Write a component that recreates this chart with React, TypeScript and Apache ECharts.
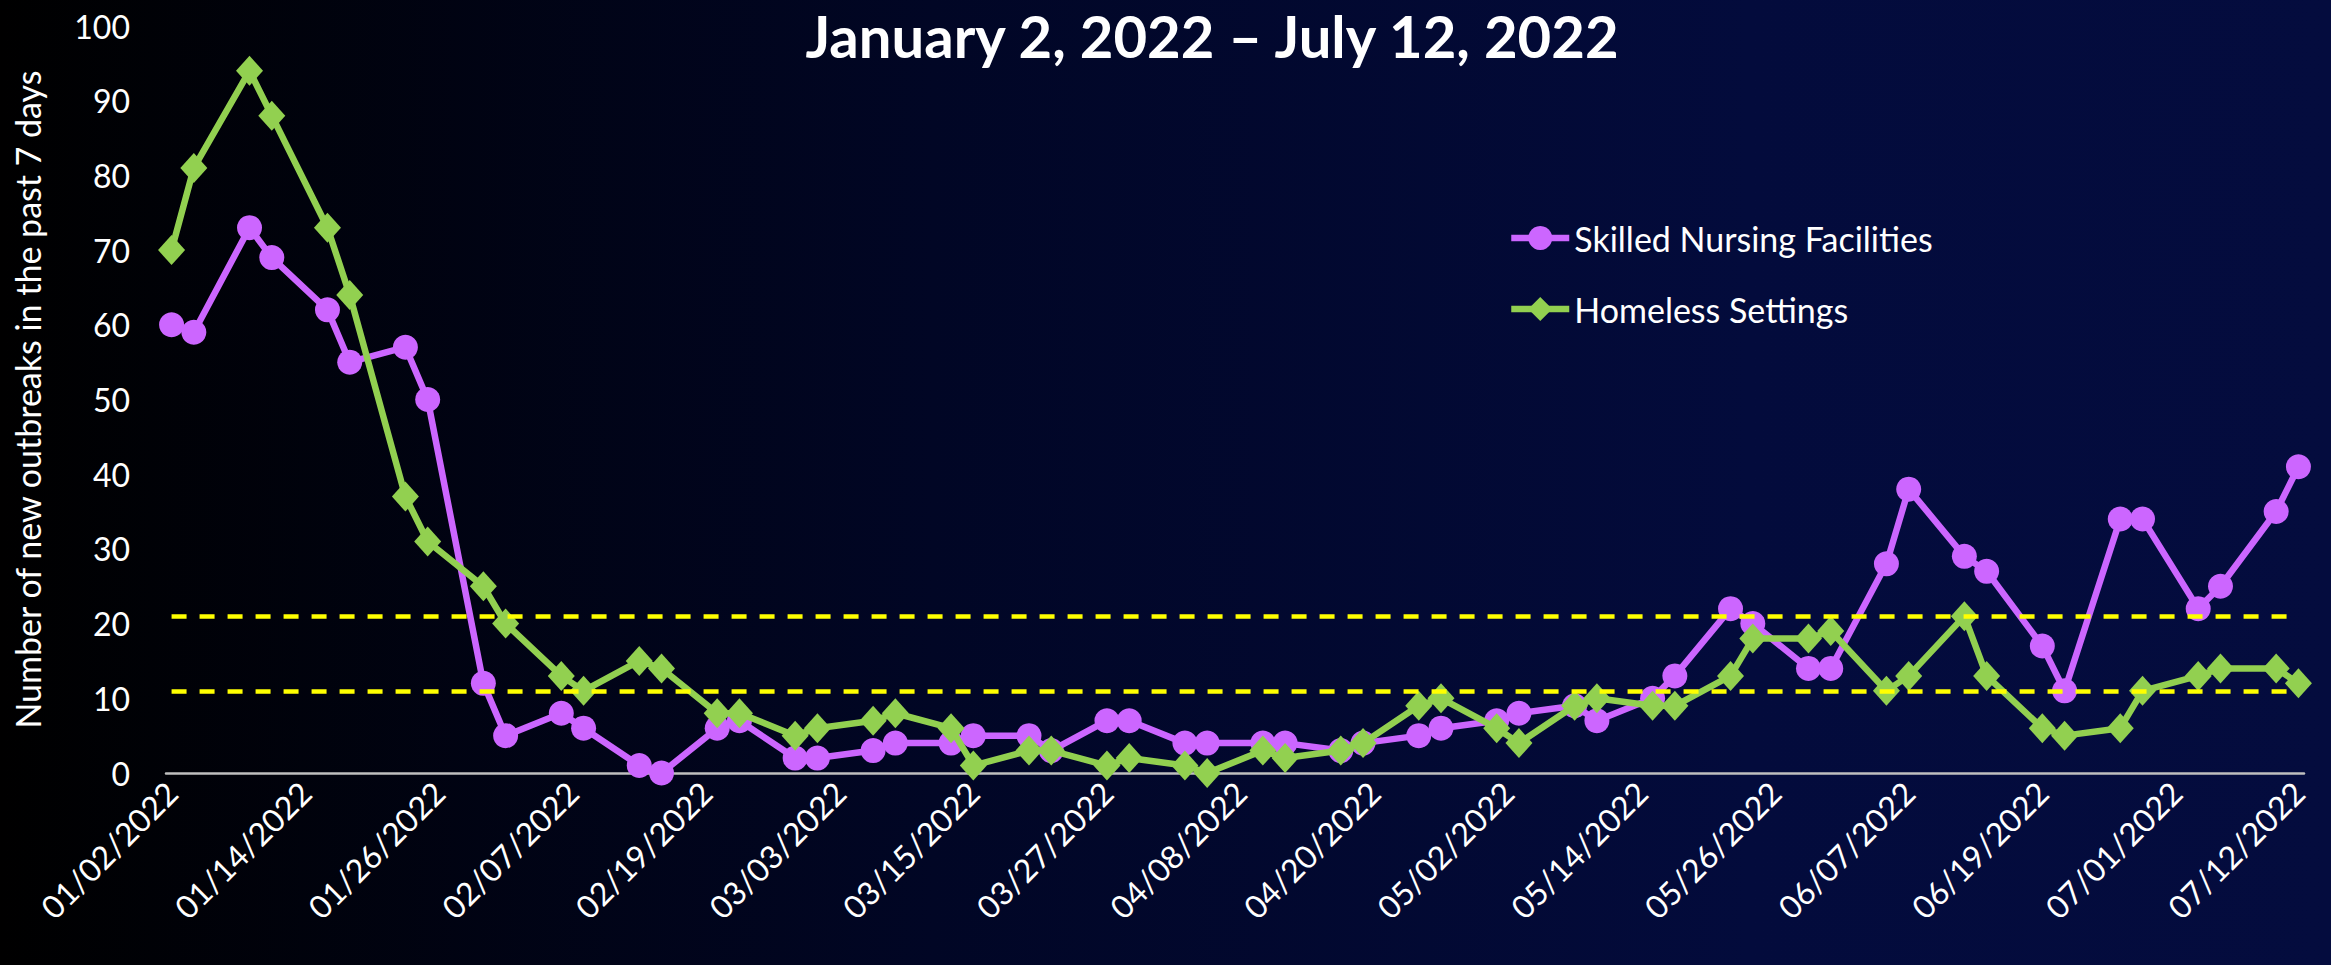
import React, { useEffect, useRef } from 'react';
import * as echarts from 'echarts';

// Report dates (Sundays and Tuesdays)
const dates = [
  '2022-01-02', '2022-01-04', '2022-01-09', '2022-01-11', '2022-01-16', '2022-01-18', '2022-01-23', '2022-01-25',
  '2022-01-30', '2022-02-01', '2022-02-06', '2022-02-08', '2022-02-13', '2022-02-15', '2022-02-20', '2022-02-22',
  '2022-02-27', '2022-03-01', '2022-03-06', '2022-03-08', '2022-03-13', '2022-03-15', '2022-03-20', '2022-03-22',
  '2022-03-27', '2022-03-29', '2022-04-03', '2022-04-05', '2022-04-10', '2022-04-12', '2022-04-17', '2022-04-19',
  '2022-04-24', '2022-04-26', '2022-05-01', '2022-05-03', '2022-05-08', '2022-05-10', '2022-05-15', '2022-05-17',
  '2022-05-22', '2022-05-24', '2022-05-29', '2022-05-31', '2022-06-05', '2022-06-07', '2022-06-12', '2022-06-14',
  '2022-06-19', '2022-06-21', '2022-06-26', '2022-06-28', '2022-07-03', '2022-07-05', '2022-07-10', '2022-07-12',
];

const skilledNursing = [
  60, 59, 73, 69, 62, 55, 57, 50,
  12, 5, 8, 6, 1, 0, 6, 7,
  2, 2, 3, 4, 4, 5, 5, 3,
  7, 7, 4, 4, 4, 4, 3, 4,
  5, 6, 7, 8, 9, 7, 10, 13,
  22, 20, 14, 14, 28, 38, 29, 27,
  17, 11, 34, 34, 22, 25, 35, 41,
];

const homeless = [
  70, 81, 94, 88, 73, 64, 37, 31,
  25, 20, 13, 11, 15, 14, 8, 8,
  5, 6, 7, 8, 6, 1, 3, 3,
  1, 2, 1, 0, 3, 2, 3, 4,
  9, 10, 6, 4, 9, 10, 9, 9,
  13, 18, 18, 19, 11, 13, 21, 13,
  6, 5, 6, 11, 13, 14, 14, 12,
];

const tickLabelDates = [
  '2022-01-02', '2022-01-14', '2022-01-26', '2022-02-07', '2022-02-19', '2022-03-03', '2022-03-15',
  '2022-03-27', '2022-04-08', '2022-04-20', '2022-05-02', '2022-05-14', '2022-05-26', '2022-06-07',
  '2022-06-19', '2022-07-01', '2022-07-12',
];

const thresholdLines = [21, 11];
const seriesNames = ['Skilled Nursing Facilities', 'Homeless Settings'];
const titleText = 'January 2, 2022 \u2013 July 12, 2022';
const yAxisTitle = 'Number of new outbreaks in the past 7 days';

const FONT = 'Lato, "Open Sans", sans-serif';
const HALF_DAY = 12 * 3600 * 1000;

function toTime(s: string): number {
  const [y, m, d] = s.split('-').map(Number);
  return new Date(y, m - 1, d).getTime();
}
function pad(n: number): string {
  return n < 10 ? '0' + n : '' + n;
}
function fmtDate(v: number): string {
  const d = new Date(v);
  return pad(d.getMonth() + 1) + '/' + pad(d.getDate()) + '/' + d.getFullYear();
}

export default function App() {
  const ref = useRef<HTMLDivElement>(null);

  useEffect(() => {
    document.body.style.margin = '0';
    document.body.style.background = '#000';
    if (!ref.current) return;
    const chart = echarts.init(ref.current, null, { renderer: 'svg' });

    const times = dates.map(toTime);
    const first = times[0];
    const last = times[times.length - 1];
    const tickValues = tickLabelDates.map(toTime);

    const mark = {
      silent: true,
      symbol: ['none', 'none'],
      label: { show: false },
      lineStyle: { color: '#FFFF00', width: 4.5, type: [15, 13] as any },
      data: thresholdLines.map((v) => [
        { coord: [first, v] },
        { coord: [last, v] },
      ]),
    };

    chart.setOption({
      animation: false,
      backgroundColor: 'transparent',
      textStyle: { fontFamily: FONT },
      graphic: [
        {
          type: 'text',
          x: 1212,
          y: 6,
          style: {
            text: titleText,
            fill: '#ffffff',
            font: `bold 58px ${FONT}`,
            align: 'center',
            verticalAlign: 'top',
          },
        },
      ],
      legend: {
        orient: 'vertical',
        left: 1503,
        top: 216,
        itemGap: 37,
        itemWidth: 58,
        itemHeight: 30,
        lineStyle: { width: 6.5 },
        textStyle: { color: '#ffffff', fontSize: 34, fontFamily: FONT },
        data: seriesNames,
      },
      grid: { left: 166, right: 27, top: 26, bottom: 192, containLabel: false },
      xAxis: {
        type: 'value',
        min: first - HALF_DAY,
        max: last + HALF_DAY,
        axisLine: { show: true, onZero: false, lineStyle: { color: '#BFBFBF', width: 2.5 } },
        axisTick: { show: false },
        splitLine: { show: false },
        axisLabel: {
          customValues: tickValues,
          rotate: 45,
          margin: 14,
          color: '#ffffff',
          fontSize: 32,
          fontFamily: FONT,
          hideOverlap: false,
          formatter: (v: number) => fmtDate(v),
        } as any,
      },
      yAxis: {
        type: 'value',
        min: 0,
        max: 100,
        interval: 10,
        name: yAxisTitle,
        nameLocation: 'middle',
        nameGap: 122,
        nameTextStyle: { color: '#ffffff', fontSize: 34, fontFamily: FONT },
        axisLine: { show: false },
        axisTick: { show: false },
        splitLine: { show: false },
        axisLabel: { color: '#ffffff', fontSize: 32, fontFamily: FONT, margin: 36 },
      },
      series: [
        {
          name: seriesNames[0],
          type: 'line',
          data: times.map((t, i) => [t, skilledNursing[i]]),
          symbol: 'circle',
          symbolSize: 25,
          itemStyle: { color: '#CC66FF' },
          lineStyle: { color: '#CC66FF', width: 6.5 },
          z: 3,
          markLine: mark,
        },
        {
          name: seriesNames[1],
          type: 'line',
          data: times.map((t, i) => [t, homeless[i]]),
          symbol: 'diamond',
          symbolSize: [27, 30],
          itemStyle: { color: '#92D050' },
          lineStyle: { color: '#92D050', width: 6.5 },
          z: 4,
        },
      ],
    });

    return () => chart.dispose();
  }, []);

  return (
    <div
      style={{
        position: 'fixed',
        left: 0,
        top: 0,
        width: 2331,
        height: 965,
        background: 'linear-gradient(to right, #000000 0%, #010625 40%, #030b3c 75%, #040c3e 100%)',
      }}
    >
      <div ref={ref} style={{ width: 2331, height: 965 }} />
    </div>
  );
}
